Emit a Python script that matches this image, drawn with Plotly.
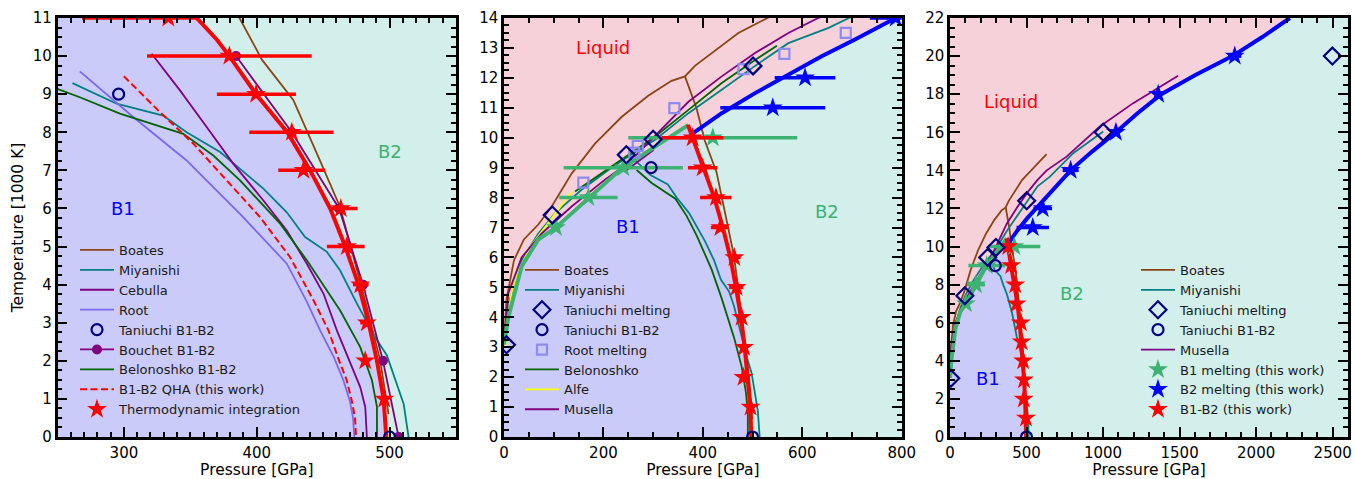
import plotly.graph_objects as go

# ---------------- data: pressure [GPa], temperature [1000 K] ----------------
boates_melt_P = [0, 5, 20, 40, 69, 96, 136, 183, 237, 290, 337, 364, 384, 424, 471.5, 518, 631]
boates_melt_T = [3.1, 4.6, 5.9, 6.6, 7.1, 7.7, 8.8, 9.8, 10.7, 11.4, 11.9, 12.05, 12.4, 12.9, 13.5, 13.9, 14.85]
boates_b1b2_P = [364, 387, 404, 427.5, 447.7, 462.7, 469.5, 482.9, 493.0, 499.2]
boates_b1b2_T = [12.05, 11.0, 9.9, 8.85, 7.25, 6.04, 5.16, 3.41, 2.0, 0.6]

miyanishi_melt_P = [0, 12, 35.5, 69, 102.6, 156, 210, 250, 304, 371, 438, 505, 572, 653, 805, 1001]
miyanishi_melt_T = [3.1, 4.6, 5.9, 6.8, 7.47, 8.26, 8.92, 9.37, 9.93, 10.82, 11.6, 12.4, 13.16, 13.67, 14.9, 16.04]
miyanishi_b1b2_P = [250, 261.3, 294.5, 329.6, 347.2, 372.4, 405.0, 422.6, 436.4, 452.8, 462.8, 475.4, 489.2, 498.0, 504.3, 510.6, 514.3]
miyanishi_b1b2_T = [9.37, 9.29, 8.75, 8.44, 8.0, 7.48, 6.52, 5.9, 5.25, 4.86, 4.37, 3.5, 2.62, 2.14, 1.49, 0.87, 0.0]

cebulla_P = [320.9, 342.2, 362.3, 382.4, 405.0, 422.6, 437.7, 450.3, 460.3, 470.4, 477.9, 481.7, 482.9]
cebulla_T = [10.06, 9.1, 8.14, 7.17, 6.21, 5.42, 4.55, 3.76, 2.8, 1.92, 1.31, 0.79, 0.0]

root_P = [266.8, 307.0, 347.2, 387.4, 422.6, 437.0, 447.7, 458.0, 465.2, 470.0, 472.5, 473.5]
root_T = [9.6, 8.4, 7.26, 5.86, 4.55, 3.6, 2.8, 2.1, 1.49, 0.96, 0.5, 0.0]
root_melt_P = [159.6, 262, 269, 342.7, 481.6, 564, 687.5]
root_melt_T = [8.5, 9.5, 9.73, 10.99, 12.29, 12.8, 13.5]

qha_P = [300.0, 327.1, 352.3, 377.4, 402.5, 425.1, 442.7, 454.0, 461.0, 467.7, 471.5, 474.0, 474.7]
qha_T = [9.47, 8.53, 7.7, 6.74, 5.77, 4.72, 3.59, 2.8, 2.1, 1.49, 0.96, 0.5, 0.0]

bouchet_P = [384.4, 426.4, 462.0, 480.0, 495.0, 506.8]
bouchet_T = [10.0, 8.0, 6.0, 4.0, 2.0, 0.0]

belonoshko_b1b2_P = [245, 266.8, 297.0, 344.7, 367.3, 387.4, 417.6, 437.7, 462.8, 477.9, 486.7, 490.5, 490.5]
belonoshko_b1b2_T = [9.2, 8.92, 8.49, 7.96, 7.39, 6.74, 5.6, 4.64, 3.32, 2.36, 1.49, 0.79, 0.0]
belonoshko_melt_P = [143, 237, 304, 371, 438, 505, 549]
belonoshko_melt_T = [8.2, 9.26, 10.04, 10.93, 11.83, 12.6, 13.07]

alfe_P = [3, 6, 15, 30, 55, 80, 105, 136]
alfe_T = [3.0, 3.8, 4.8, 5.6, 6.4, 6.95, 7.5, 8.2]

musella_P = [0, 8.7, 35.5, 75.8, 136, 203, 250, 304, 371, 438, 505, 572, 632, 761.5, 979, 1197, 1490]
musella_T = [3.1, 4.8, 6.0, 6.8, 7.7, 8.6, 9.15, 10.06, 11.2, 12.05, 12.83, 13.5, 14.0, 14.72, 16.3, 17.53, 18.97]
musella_b1_P = [247, 300.5]
musella_b1_T = [8.92, 9.59]

taniuchi_melt_P = [5, 97, 246, 300, 501, 1001, 2498]
taniuchi_melt_T = [3.08, 7.42, 9.43, 9.95, 12.4, 16.0, 20.0]
taniuchi_b1b2_P = [296, 500]
taniuchi_b1b2_T = [9.0, 0.0]

# this work
b1_melt_P = [0, 8.7, 35.5, 69, 104.6, 170, 237, 304, 371]
b1_melt_T = [3.1, 4.0, 5.7, 6.6, 7.0, 8.0, 8.98, 9.7, 10.43]
b1_star_P = [104.6, 169.7, 240.0, 420.0]
b1_star_T = [7, 8, 9, 10]
b1_star_err = [8, 58.7, 120, 170]

b2_melt_P = [374, 438, 505, 572, 639, 706, 788, 930, 1084, 1225, 1380, 1600, 1845, 2040, 2220]
b2_melt_T = [10.08, 10.82, 11.49, 12.1, 12.72, 13.28, 14.0, 15.0, 16.0, 17.0, 18.0, 19.0, 20.0, 21.0, 22.0]
b2_star_P = [540.6, 605.6, 788, 1084, 1360, 1860]
b2_star_T = [11, 12, 14, 16, 18, 20]
b2_star_err = [105.6, 61, 52, 20, 15, 43]

fit_P = [354.8, 370.0, 379.4, 399.5, 423.0, 440.2, 455.3, 466.6, 476.6, 484.2, 490.5, 495.5, 497.5]
fit_T = [11.0, 10.43, 10.0, 9.0, 8.0, 7.0, 6.0, 5.0, 4.0, 3.0, 2.0, 1.0, 0.0]
ti_P = [333.4, 379.4, 399.5, 426.4, 435.2, 463.3, 467.8, 477.9, 482.9, 481.7, 496.0]
ti_T = [11, 10, 9, 8, 7, 6, 5, 4, 3, 2, 1]
ti_err_minus = [65, 62, 29.5, 32, 19, 8.5, 15, 5.5, 5, 2, 2]
ti_err_plus = [22, 62, 30, 31.4, 16.3, 12.6, 13.4, 6.3, 4, 2, 2]

# ---------------- styling ----------------
C_B1 = '#cbcbf9'
C_B2 = '#d2efec'
C_LIQ = '#f7d1d9'
BROWN = '#8b4513'
TEAL = '#008080'
PURPLE = '#800080'
ROOT = '#7b68ee'
ROOTSQ = '#8c8cf0'
DKGREEN = '#006400'
MSGREEN = '#3cb371'
NAVY = '#000080'
FONT = 'DejaVu Sans'
STAR = 15

fig = go.Figure()
AX = {1: ('x', 'y'), 2: ('x2', 'y2'), 3: ('x3', 'y3')}


def add(panel, x, y, legend=None, rank=None, **kw):
    xa, ya = AX[panel]
    tr = go.Scatter(x=x, y=y, xaxis=xa, yaxis=ya, hoverinfo='skip', **kw)
    if legend is None:
        tr.showlegend = False
    else:
        tr.showlegend = True
        tr.legend = legend
        tr.legendrank = rank
    fig.add_trace(tr)


def fill(panel, x, y, color):
    add(panel, x, y, mode='lines', fill='toself', fillcolor=color, line=dict(width=0, color=color))


sub_fit_P = [p for p, t in zip(fit_P, fit_T) if t <= 10.5]
sub_fit_T = [t for t in fit_T if t <= 10.5]

# phase-region fills
fill(1, [0, 0] + fit_P, [0, 11] + fit_T, C_B1)
for pn in (2, 3):
    fill(pn, [0] + b1_melt_P + sub_fit_P, [0] + b1_melt_T + sub_fit_T, C_B1)
    fill(pn, b1_melt_P + b2_melt_P + [0], b1_melt_T + b2_melt_T + [22], C_LIQ)

thin = 1.8

# ---------- panel 1 ----------
L1 = 'legend'
add(1, boates_b1b2_P, boates_b1b2_T, L1, 1, name='Boates', mode='lines', line=dict(color=BROWN, width=thin))
add(1, miyanishi_b1b2_P[1:], miyanishi_b1b2_T[1:], L1, 2, name='Miyanishi', mode='lines', line=dict(color=TEAL, width=thin))
add(1, cebulla_P, cebulla_T, L1, 3, name='Cebulla', mode='lines', line=dict(color=PURPLE, width=thin))
add(1, root_P, root_T, L1, 4, name='Root', mode='lines', line=dict(color=ROOT, width=thin))
add(1, belonoshko_b1b2_P, belonoshko_b1b2_T, L1, 7, name='Belonoshko B1-B2', mode='lines', line=dict(color=DKGREEN, width=thin))
add(1, qha_P, qha_T, L1, 8, name='B1-B2 QHA (this work)', mode='lines', line=dict(color='red', width=2, dash='7px,3.5px'))
add(1, bouchet_P, bouchet_T, L1, 6, name='Bouchet B1-B2', mode='lines+markers', line=dict(color=PURPLE, width=thin),
    marker=dict(symbol='circle', size=10, color=PURPLE))
add(1, fit_P, fit_T, mode='lines', line=dict(color='red', width=4))
add(1, ti_P, ti_T, L1, 9, name='Thermodynamic integration', mode='markers',
    marker=dict(symbol='star', size=STAR, color='red'),
    error_x=dict(type='data', symmetric=False, array=ti_err_plus, arrayminus=ti_err_minus, thickness=3.5, width=0, color='red'))
add(1, taniuchi_b1b2_P, taniuchi_b1b2_T, L1, 5, name='Taniuchi B1-B2', mode='markers',
    marker=dict(symbol='circle-open', size=11, color=NAVY, line=dict(width=2.2, color=NAVY)))

# ---------- panels 2 and 3 ----------
for pn in (2, 3):
    LG = 'legend2' if pn == 2 else 'legend3'
    add(pn, boates_melt_P, boates_melt_T, LG, 1, name='Boates', mode='lines', line=dict(color=BROWN, width=thin))
    add(pn, boates_b1b2_P, boates_b1b2_T, mode='lines', line=dict(color=BROWN, width=thin))
    add(pn, miyanishi_melt_P, miyanishi_melt_T, LG, 2, name='Miyanishi', mode='lines', line=dict(color=TEAL, width=thin))
    add(pn, miyanishi_b1b2_P, miyanishi_b1b2_T, mode='lines', line=dict(color=TEAL, width=thin))
    if pn == 2:
        add(pn, belonoshko_melt_P, belonoshko_melt_T, LG, 6, name='Belonoshko', mode='lines', line=dict(color=DKGREEN, width=thin))
        add(pn, belonoshko_b1b2_P[1:], belonoshko_b1b2_T[1:], mode='lines', line=dict(color=DKGREEN, width=thin))
        add(pn, alfe_P, alfe_T, LG, 7, name='Alfe', mode='lines', line=dict(color='#ffff00', width=thin))
    add(pn, musella_P, musella_T, LG, 8 if pn == 2 else 5, name='Musella', mode='lines', line=dict(color=PURPLE, width=thin))
    add(pn, musella_b1_P, musella_b1_T, mode='lines', line=dict(color=PURPLE, width=thin))
    # this work lines
    add(pn, b1_melt_P, b1_melt_T, mode='lines', line=dict(color=MSGREEN, width=4))
    add(pn, b2_melt_P, b2_melt_T, mode='lines', line=dict(color='blue', width=4))
    add(pn, sub_fit_P, sub_fit_T, mode='lines', line=dict(color='red', width=4))
    kwl = (LG, 6) if pn == 3 else (None, None)
    add(pn, b1_star_P, b1_star_T, kwl[0], kwl[1], name='B1 melting (this work)', mode='markers',
        marker=dict(symbol='star', size=STAR, color=MSGREEN),
        error_x=dict(type='data', array=b1_star_err, thickness=3.5, width=0, color=MSGREEN))
    kwl = (LG, 7) if pn == 3 else (None, None)
    add(pn, b2_star_P, b2_star_T, kwl[0], kwl[1], name='B2 melting (this work)', mode='markers',
        marker=dict(symbol='star', size=STAR, color='blue'),
        error_x=dict(type='data', array=b2_star_err, thickness=3.5, width=0, color='blue'))
    kwl = (LG, 8) if pn == 3 else (None, None)
    err = dict(type='data', symmetric=False, array=ti_err_plus[1:], arrayminus=ti_err_minus[1:],
               thickness=3.5, width=0, color='red') if pn == 2 else None
    add(pn, ti_P[1:], ti_T[1:], kwl[0], kwl[1], name='B1-B2 (this work)', mode='markers',
        marker=dict(symbol='star', size=STAR, color='red'), error_x=err)
    if pn == 2:
        add(pn, root_melt_P, root_melt_T, LG, 5, name='Root melting', mode='markers',
            marker=dict(symbol='square-open', size=10, color=ROOTSQ, line=dict(width=2.2, color=ROOTSQ)))
    add(pn, taniuchi_melt_P, taniuchi_melt_T, LG, 3, name='Taniuchi melting', mode='markers',
        marker=dict(symbol='diamond-open', size=13, color=NAVY, line=dict(width=2.2, color=NAVY)))
    add(pn, taniuchi_b1b2_P, taniuchi_b1b2_T, LG, 4, name='Taniuchi B1-B2', mode='markers',
        marker=dict(symbol='circle-open', size=11, color=NAVY, line=dict(width=2.2, color=NAVY)))

# ---------------- layout ----------------
W, H = 1355, 479
ML, MR, MT, MB = 57, 7, 18, 42
PW = W - ML - MR
PH = H - MT - MB
IW = 34  # legend item width


def dom(a, b):
    return [(a - ML) / PW, (b - ML) / PW]


def axis(rng, dtick, minor, domain=None, anchor=None, title=None, standoff=12):
    d = dict(range=rng, dtick=dtick, tick0=0, showline=True, linecolor='black', linewidth=2.5,
             mirror='allticks', ticks='inside', ticklen=10, tickwidth=2, tickcolor='black',
             showgrid=False, zeroline=False,
             tickfont=dict(family=FONT, size=15, color='black'),
             minor=dict(dtick=minor, tick0=0, ticks='inside', ticklen=5, tickwidth=1.5,
                        tickcolor='black', showgrid=False))
    if domain is not None:
        d['domain'] = domain
    if anchor is not None:
        d['anchor'] = anchor
    if title is not None:
        d['title'] = dict(text=title, font=dict(family=FONT, size=15.5, color='black'), standoff=standoff)
    return d


def legend(xpx, ytop):
    return dict(x=(xpx - ML) / PW, y=(H - MB - ytop) / PH, xref='paper', yref='paper',
                xanchor='left', yanchor='top',
                bgcolor='rgba(0,0,0,0)', borderwidth=0, font=dict(family=FONT, size=13, color='#1a1a1a'),
                traceorder='normal', tracegroupgap=0, itemwidth=IW)


fig.update_layout(
    width=W, height=H,
    margin=dict(l=ML, r=MR, t=MT, b=MB, autoexpand=False),
    paper_bgcolor='white', plot_bgcolor=C_B2,
    font=dict(family=FONT, color='black'),
    xaxis=axis([250, 550], 100, 10, domain=dom(57.5, 456), anchor='y', title='Pressure [GPa]'),
    yaxis=axis([0, 11], 1, 0.25, anchor='x', title='Temperature [1000 K]', standoff=6),
    xaxis2=axis([0, 800], 200, 50, domain=dom(504, 901.7), anchor='y2', title='Pressure [GPa]'),
    yaxis2=axis([0, 14], 1, 0.25, anchor='x2'),
    xaxis3=axis([0, 2600], 500, 100, domain=dom(950, 1348), anchor='y3', title='Pressure [GPa]'),
    yaxis3=axis([0, 22], 2, 0.5, anchor='x3'),
    legend=legend(75, 235),
    legend2=legend(520, 255),
    legend3=legend(1136, 255),
)

labels = [
    ('x', 'y', 299.5, 6.0, 'B1', 'blue'),
    ('x', 'y', 500, 7.5, 'B2', MSGREEN),
    ('x2', 'y2', 200, 13.03, 'Liquid', 'red'),
    ('x2', 'y2', 250, 7.02, 'B1', 'blue'),
    ('x2', 'y2', 650, 7.52, 'B2', MSGREEN),
    ('x3', 'y3', 398, 17.6, 'Liquid', 'red'),
    ('x3', 'y3', 250, 3.07, 'B1', 'blue'),
    ('x3', 'y3', 795, 7.53, 'B2', MSGREEN),
]
for xr, yr, xv, yv, txt, col in labels:
    fig.add_annotation(x=xv, y=yv, xref=xr, yref=yr, text=txt, showarrow=False,
                       font=dict(family=FONT, size=18, color=col), xanchor='center', yanchor='middle')

fig.write_html('out.html', config={'displayModeBar': False},
               post_script="document.body.style.margin='0px';document.body.style.overflow='hidden';")
